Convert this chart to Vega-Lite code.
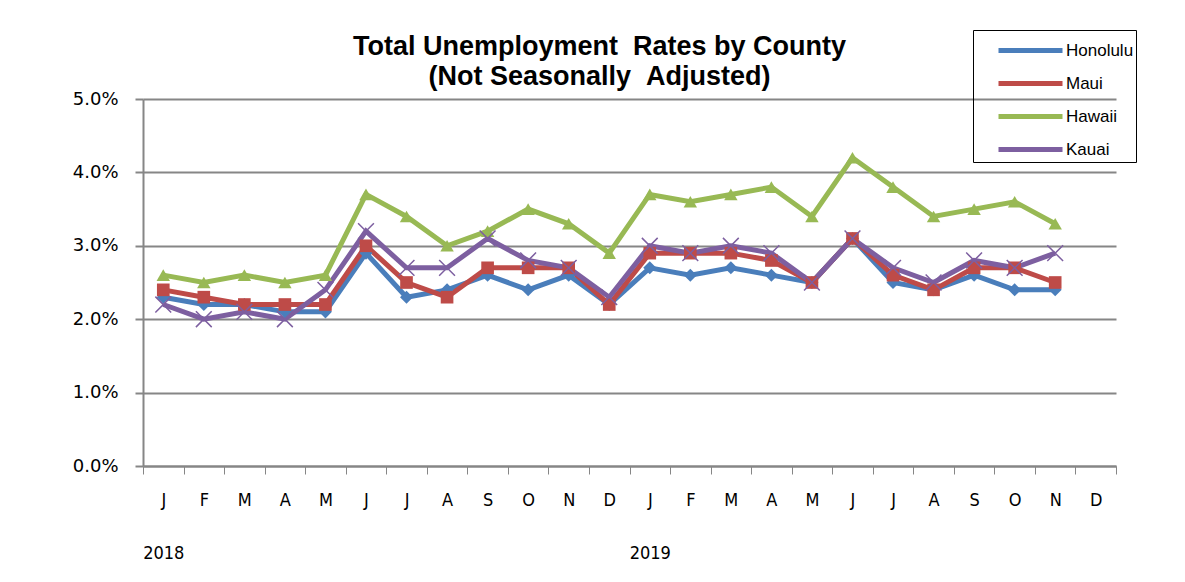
{
  "$schema": "https://vega.github.io/schema/vega-lite/v6.json",
  "autosize": {"type": "none"},
  "width": 973,
  "height": 367,
  "padding": {"left": 143, "top": 99, "right": 69, "bottom": 116},
  "background": "white",
  "title": {
    "text": ["Total Unemployment \u00a0Rates by County", "(Not Seasonally \u00a0Adjusted)"],
    "font": "Liberation Sans",
    "fontSize": 27,
    "fontWeight": "bold",
    "lineHeight": 30,
    "anchor": "middle",
    "dx": -30,
    "offset": -61,
    "color": "black"
  },
  "config": {
    "view": {"stroke": null},
    "axis": {"gridColor": "#868686", "gridWidth": 2, "domainColor": "#868686", "tickColor": "#868686", "labelColor": "black"}
  },
  "data": {
    "values": [
      {"m": 1, "Honolulu": 2.3, "Maui": 2.4, "Hawaii": 2.6, "Kauai": 2.2},
      {"m": 2, "Honolulu": 2.2, "Maui": 2.3, "Hawaii": 2.5, "Kauai": 2.0},
      {"m": 3, "Honolulu": 2.2, "Maui": 2.2, "Hawaii": 2.6, "Kauai": 2.1},
      {"m": 4, "Honolulu": 2.1, "Maui": 2.2, "Hawaii": 2.5, "Kauai": 2.0},
      {"m": 5, "Honolulu": 2.1, "Maui": 2.2, "Hawaii": 2.6, "Kauai": 2.4},
      {"m": 6, "Honolulu": 2.9, "Maui": 3.0, "Hawaii": 3.7, "Kauai": 3.2},
      {"m": 7, "Honolulu": 2.3, "Maui": 2.5, "Hawaii": 3.4, "Kauai": 2.7},
      {"m": 8, "Honolulu": 2.4, "Maui": 2.3, "Hawaii": 3.0, "Kauai": 2.7},
      {"m": 9, "Honolulu": 2.6, "Maui": 2.7, "Hawaii": 3.2, "Kauai": 3.1},
      {"m": 10, "Honolulu": 2.4, "Maui": 2.7, "Hawaii": 3.5, "Kauai": 2.8},
      {"m": 11, "Honolulu": 2.6, "Maui": 2.7, "Hawaii": 3.3, "Kauai": 2.7},
      {"m": 12, "Honolulu": 2.2, "Maui": 2.2, "Hawaii": 2.9, "Kauai": 2.3},
      {"m": 13, "Honolulu": 2.7, "Maui": 2.9, "Hawaii": 3.7, "Kauai": 3.0},
      {"m": 14, "Honolulu": 2.6, "Maui": 2.9, "Hawaii": 3.6, "Kauai": 2.9},
      {"m": 15, "Honolulu": 2.7, "Maui": 2.9, "Hawaii": 3.7, "Kauai": 3.0},
      {"m": 16, "Honolulu": 2.6, "Maui": 2.8, "Hawaii": 3.8, "Kauai": 2.9},
      {"m": 17, "Honolulu": 2.5, "Maui": 2.5, "Hawaii": 3.4, "Kauai": 2.5},
      {"m": 18, "Honolulu": 3.1, "Maui": 3.1, "Hawaii": 4.2, "Kauai": 3.1},
      {"m": 19, "Honolulu": 2.5, "Maui": 2.6, "Hawaii": 3.8, "Kauai": 2.7},
      {"m": 20, "Honolulu": 2.4, "Maui": 2.4, "Hawaii": 3.4, "Kauai": 2.5},
      {"m": 21, "Honolulu": 2.6, "Maui": 2.7, "Hawaii": 3.5, "Kauai": 2.8},
      {"m": 22, "Honolulu": 2.4, "Maui": 2.7, "Hawaii": 3.6, "Kauai": 2.7},
      {"m": 23, "Honolulu": 2.4, "Maui": 2.5, "Hawaii": 3.3, "Kauai": 2.9}
    ]
  },
  "transform": [
    {"fold": ["Honolulu", "Maui", "Hawaii", "Kauai"], "as": ["county", "rate"]},
    {"calculate": "datum.rate / 100", "as": "pct"}
  ],
  "encoding": {
    "x": {
      "field": "m",
      "type": "ordinal",
      "scale": {"domain": [1,2,3,4,5,6,7,8,9,10,11,12,13,14,15,16,17,18,19,20,21,22,23,24], "paddingInner": 0, "paddingOuter": 0},
      "axis": {
        "title": null,
        "labelAngle": 0,
        "tickBand": "extent",
        "tickSize": 8,
        "labelPadding": 17,
        "labelFont": "DejaVu Sans Condensed, Liberation Sans",
        "labelFontSize": 18,
        "labelLineHeight": 53,
        "labelExpr": "datum.value == 1 ? ['J', '2018'] : datum.value == 13 ? ['J', '2019'] : ['J','F','M','A','M','J','J','A','S','O','N','D'][(datum.value - 1) % 12]",
        "grid": false,
        "domainWidth": 2
      }
    },
    "y": {
      "field": "pct",
      "type": "quantitative",
      "scale": {"domain": [0, 0.05]},
      "axis": {
        "title": null,
        "format": ".1%",
        "values": [0, 0.01, 0.02, 0.03, 0.04, 0.05],
        "tickSize": 8,
        "labelPadding": 17,
        "labelFont": "DejaVu Sans",
        "labelFontSize": 18,
        "domainWidth": 2,
        "tickWidth": 2
      }
    },
    "color": {
      "field": "county",
      "type": "nominal",
      "scale": {"domain": ["Honolulu", "Maui", "Hawaii", "Kauai"], "range": ["#4A7EBB", "#BE4B48", "#98B954", "#7D5FA0"]},
      "legend": {
        "title": null,
        "orient": "none",
        "legendX": 830,
        "legendY": -69,
        "symbolType": "M-2,0H2",
        "symbolStrokeWidth": 5,
        "symbolSize": 1024,
        "symbolStrokeCap": "round",
        "labelFont": "Liberation Sans",
        "labelFontSize": 17,
        "labelColor": "black",
        "rowPadding": 4,
        "strokeColor": "black",
        "padding": 2,
        "symbolOffset": 37,
        "labelOffset": 17,
        "labelLimit": 200
      }
    }
  },
  "layer": [
    {"mark": {"type": "line", "strokeWidth": 5}},
    {
      "transform": [{"filter": "datum.county == 'Honolulu'"}],
      "mark": {"type": "point", "shape": "diamond", "filled": true, "size": 170, "opacity": 1}
    },
    {
      "transform": [{"filter": "datum.county == 'Maui'"}],
      "mark": {"type": "point", "shape": "square", "filled": true, "size": 160, "opacity": 1}
    },
    {
      "transform": [{"filter": "datum.county == 'Hawaii'"}],
      "mark": {"type": "point", "shape": "triangle-up", "filled": true, "size": 180, "opacity": 1}
    },
    {
      "transform": [{"filter": "datum.county == 'Kauai'"}],
      "mark": {"type": "point", "shape": "M-1,-1L1,1M1,-1L-1,1", "filled": false, "size": 250, "strokeWidth": 1.5, "opacity": 1}
    }
  ]
}
